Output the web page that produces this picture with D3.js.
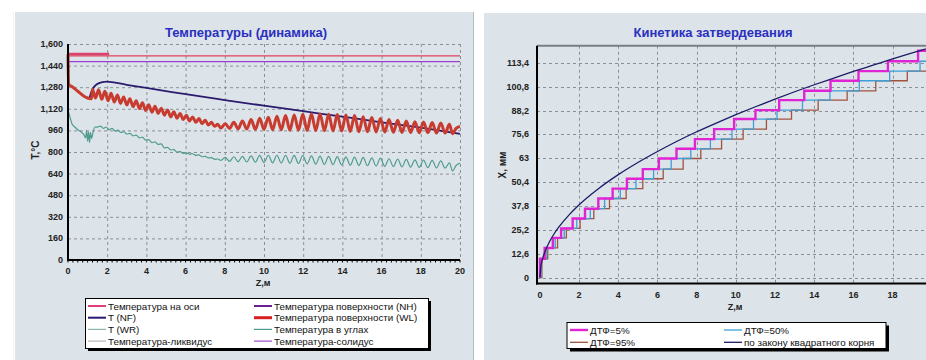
<!DOCTYPE html>
<html><head><meta charset="utf-8">
<script src="https://cdn.jsdelivr.net/npm/d3@7/dist/d3.min.js"></script>
<style>
html,body{margin:0;padding:0;background:#fff;}
svg{display:block;font-family:"Liberation Sans",Arial,sans-serif;}
</style></head>
<body><svg id="c" width="926" height="360"></svg>
<script>
// ---------- LEFT CHART DATA ----------
const leftTitle = "Температуры (динамика)";
const leftXTicks = [0,2,4,6,8,10,12,14,16,18,20];
const leftYTicks = [0,160,320,480,640,800,960,1120,1280,1440,1600];
const leftLegend = ["Температура на оси","Температура поверхности (NH)","T (NF)","Температура поверхности (WL)","T (WR)","Температура в углах","Температура-ликвидус","Температура-солидус"];

const axisZ = [0, 2.1];
const axisT = [1526, 1526];
const liqZ = [0, 20];
const liqT = [1512, 1512];
const solZ = [0, 20];
const solT = [1469, 1469];

const nfZ = [1.1,1.25,1.45,1.7,2.0,3,4,6,8,10,12,14,16,18,20];
const nfT = [1200,1265,1300,1316,1322,1298,1275,1228,1185,1143,1102,1062,1020,980,935];

const wlZ = [0,0.03,0.2,0.5,0.8,1.0,1.15,
 1.20,1.25,1.40,1.56,1.72,1.88,2.04,2.20,2.36,2.52,2.68,2.84,3.00,3.16,3.32,3.48,3.64,3.80,3.96,4.12,4.28,4.44,4.60,4.76,4.92,5.08,5.24,5.40,5.56,5.72,5.88,6.04,6.20,6.36,6.52,6.68,6.84,7.00,7.16,7.32,7.48,7.64,7.80,
 8.02,8.24,8.46,8.68,8.90,9.12,9.34,9.56,9.78,10.00,10.22,10.44,10.66,10.88,11.10,11.32,11.54,11.76,11.98,12.20,12.42,12.64,12.86,13.08,13.30,13.52,13.74,13.96,14.18,14.40,14.62,14.84,15.06,15.28,15.50,15.72,15.94,16.16,16.38,16.60,16.82,17.04,17.26,17.48,17.70,17.92,18.14,18.36,18.58,18.80,19.02,19.24,19.46,19.62,19.80,20.00];
const wlT = [1525,1300,1285,1250,1215,1200,1195,
 1195,1265,1200,1262,1190,1250,1180,1235,1170,1222,1160,1208,1148,1195,1135,1180,1122,1165,1108,1150,1095,1138,1085,1125,1072,1112,1060,1098,1050,1085,1040,1072,1030,1060,1020,1048,1010,1035,1000,1020,990,1005,978,
 1010,975,1020,972,1030,970,1040,968,1050,968,1058,965,1065,965,1070,962,1075,962,1080,960,1082,960,1082,958,1080,956,1078,955,1075,952,1070,950,1062,950,1055,948,1048,948,1040,946,1035,945,1030,944,1025,942,1022,942,1018,940,1015,940,1005,935,975,990];

const cornZ = [0,0.08,0.2,0.35,0.5,0.65,0.8,0.9,0.95,1.0,1.05,1.1,1.15,1.2,1.3,1.38,
 1.5,1.65,1.8,1.95,2.1,2.25,2.4,2.55,2.7,2.85,3.0,3.16,3.32,3.48,3.64,3.80,3.96,4.12,4.28,4.44,4.60,4.76,4.92,5.08,5.24,5.40,5.56,5.72,5.88,6.04,6.20,6.36,6.52,6.68,6.84,7.00,7.16,7.32,7.48,7.64,7.80,
 8.02,8.24,8.46,8.68,8.90,9.12,9.34,9.56,9.78,10.00,10.22,10.44,10.66,10.88,11.10,11.32,11.54,11.76,11.98,12.20,12.42,12.64,12.86,13.08,13.30,13.52,13.74,13.96,14.18,14.40,14.62,14.84,15.06,15.28,15.50,15.72,15.94,16.16,16.38,16.60,16.82,17.04,17.26,17.48,17.70,17.92,18.14,18.36,18.58,18.80,19.02,19.24,19.46,19.62,19.80,20.00];
const cornT = [1110,1070,1010,985,965,950,930,905,960,880,950,870,945,900,960,985,
 985,992,975,985,965,975,955,962,945,950,932,938,920,925,905,910,888,892,870,875,856,860,830,834,815,818,800,803,790,794,784,787,775,778,765,768,756,758,746,748,738,
 760,730,765,728,768,726,772,724,775,722,776,720,776,718,776,716,775,715,774,712,772,710,770,708,768,706,766,704,764,702,762,700,760,698,757,696,754,694,750,692,748,690,745,688,742,686,740,684,738,682,735,680,720,660,700,718];

// ---------- RIGHT CHART DATA ----------
const rightTitle = "Кинетика затвердевания";
const rightXTicks = [0,2,4,6,8,10,12,14,16,18];
const rightYTicks = [0,12.6,25.2,37.8,50.4,63,75.6,88.2,100.8,113.4];
const rightLegend = ["ДТФ=5%","ДТФ=50%","ДТФ=95%","по закону квадратного корня"];

const stepLevels = [10.0,15.7,21.0,26.0,31.2,36.4,41.8,47.0,52.2,57.3,62.9,68.0,73.1,78.4,83.7,88.4,93.7,98.6,103.9,109.0,114.2,119.7];
const dtf5Z  = [0,0.24,0.66,1.08,1.67,2.3,2.98,3.71,4.44,5.25,6.07,6.97,7.91,8.89,9.91,11.0,12.21,13.49,14.83,16.26,17.76,19.3];
const dtf50Z = [0.05,0.32,0.78,1.24,1.88,2.57,3.3,4.1,4.9,5.8,6.7,7.7,8.7,9.8,10.9,12.1,13.4,14.8,16.3,17.85,19.4];
const dtf95Z = [0.1,0.4,0.9,1.35,2.05,2.75,3.55,4.4,5.25,6.29,7.31,8.21,9.27,10.37,11.56,12.84,14.2,15.68,17.14,18.75];

const sqrtZ = [0,0.05,0.1,0.25,0.5,0.75,1,1.5,2,3,4,5,6,7,8,9,10,11,12,13,14,15,16,17,18,19,20];
const sqrtX = [0,6.1,8.6,13.6,19.2,23.6,27.2,33.3,38.5,47.1,54.4,60.8,66.6,72,77,81.6,86,90.2,94.2,98.1,101.8,105.3,108.8,112.1,115.4,118.6,121.6];

// ---------- DRAW ----------
const svg = d3.select("#c");
const BG = "#dde4e9";
const GRID = "#8a9098";
const LEGFS = 9.8;

svg.append("rect").attr("x",15).attr("y",12).attr("width",458).attr("height",348).attr("fill",BG);
svg.append("line").attr("x1",473.5).attr("x2",473.5).attr("y1",12).attr("y2",360).attr("stroke","#b4bcc4");
svg.append("line").attr("x1",13.5).attr("x2",13.5).attr("y1",12).attr("y2",360).attr("stroke","#eef1f4");
svg.append("rect").attr("x",484).attr("y",13).attr("width",442).attr("height",347).attr("fill",BG);

function zip(a,b){return a.map((v,i)=>[v,b[i]]);}

// ===== LEFT =====
const xL = d3.scaleLinear().domain([0,20]).range([68,460]);
const yL = d3.scaleLinear().domain([0,1600]).range([260,44]);
const gL = svg.append("g");

gL.selectAll(".vg").data(leftXTicks.slice(1)).join("line")
  .attr("x1",d=>xL(d)+.5).attr("x2",d=>xL(d)+.5).attr("y1",yL(1600)).attr("y2",yL(0))
  .attr("stroke",GRID).attr("stroke-dasharray","3,3").attr("stroke-width",1);
gL.selectAll(".hg").data(leftYTicks.slice(1)).join("line")
  .attr("x1",xL(0)).attr("x2",xL(20)).attr("y1",d=>yL(d)+.5).attr("y2",d=>yL(d)+.5)
  .attr("stroke",GRID).attr("stroke-dasharray","3,3").attr("stroke-width",1);

const lineL = d3.line().x(d=>xL(d[0])).y(d=>yL(d[1]));
const lineLs = d3.line().x(d=>xL(d[0])).y(d=>yL(d[1])).curve(d3.curveMonotoneX);

gL.append("path").datum(zip(solZ,solT)).attr("d",lineL).attr("fill","none").attr("stroke","#9a3fd0").attr("stroke-width",1.3);
gL.append("path").datum(zip(liqZ,liqT)).attr("d",lineL).attr("fill","none").attr("stroke","#e0405e").attr("stroke-width",1.3);
gL.append("path").datum(zip(axisZ,axisT)).attr("d",lineL).attr("fill","none").attr("stroke","#d8446e").attr("stroke-width",2.6);
gL.append("path").datum(zip(cornZ,cornT)).attr("d",lineLs).attr("fill","none").attr("stroke","#4f9b8f").attr("stroke-width",1.2);
gL.append("path").datum(zip(nfZ,nfT)).attr("d",d3.line().x(d=>xL(d[0])).y(d=>yL(d[1])).curve(d3.curveCatmullRom)).attr("fill","none").attr("stroke","#2b1a6e").attr("stroke-width",1.8);
gL.append("path").datum(zip(wlZ,wlT)).attr("d",lineLs).attr("fill","none").attr("stroke","#c83c30").attr("stroke-width",3);

gL.append("line").attr("x1",xL(0)).attr("x2",xL(0)).attr("y1",yL(1600)).attr("y2",yL(0)+1).attr("stroke","#000").attr("stroke-width",2);
gL.append("line").attr("x1",xL(0)-1).attr("x2",xL(20)).attr("y1",yL(0)).attr("y2",yL(0)).attr("stroke","#000").attr("stroke-width",2);
gL.selectAll(".mt").data(d3.range(0,81)).join("line")
  .attr("x1",d=>xL(d*0.25)).attr("x2",d=>xL(d*0.25)).attr("y1",yL(0)).attr("y2",yL(0)+2.5).attr("stroke","#000").attr("stroke-width",1);

gL.selectAll(".xl").data(leftXTicks).join("text")
  .attr("x",d=>xL(d)).attr("y",274).attr("text-anchor","middle").attr("font-size",9).attr("font-weight","bold").attr("fill","#222").text(d=>d);
gL.selectAll(".yl").data(leftYTicks).join("text")
  .attr("x",63).attr("y",d=>yL(d)+3).attr("text-anchor","end").attr("font-size",9).attr("font-weight","bold").attr("fill","#222").text(d3.format(","));
gL.append("text").attr("x",263).attr("y",286).attr("text-anchor","middle").attr("font-size",9).attr("font-weight","bold").attr("fill","#222").text("Z,м");
gL.append("text").attr("transform","translate(39,150) rotate(-90)").attr("text-anchor","middle").attr("font-size",10).attr("font-weight","bold").attr("fill","#222").text("T,°C");
gL.append("text").attr("x",246).attr("y",37).attr("text-anchor","middle").attr("font-size",13).attr("font-weight","bold").attr("fill","#2a2fc0").text(leftTitle);

const legL = [
  {c:"#e0407a",w:2},{c:"#6a2090",w:2},{c:"#2b1a6e",w:2},{c:"#d82020",w:3},
  {c:"#8cb4b0",w:1.2},{c:"#4f9b8f",w:1.2},{c:"#b8b8b8",w:1.2},{c:"#a050c8",w:1.2}];
svg.append("rect").attr("x",88).attr("y",301).attr("width",343).attr("height",50).attr("fill","#000");
svg.append("rect").attr("x",85.5).attr("y",298.5).attr("width",343).attr("height",50).attr("fill","#fff").attr("stroke","#000").attr("stroke-width",1);
leftLegend.forEach((t,i)=>{
  const col=i%2, row=Math.floor(i/2);
  const x0 = col===0?88:254, yy = 306+row*11.7;
  svg.append("line").attr("x1",x0).attr("x2",x0+18).attr("y1",yy).attr("y2",yy).attr("stroke",legL[i].c).attr("stroke-width",legL[i].w);
  svg.append("text").attr("x",x0+20).attr("y",yy+3.6).attr("font-size",LEGFS).attr("fill","#111").text(t);
});

// ===== RIGHT =====
const xR = d3.scaleLinear().domain([-0.15,20]).range([537,931.8]);
const yR = d3.scaleLinear().domain([-3,122.4]).range([283.4,45.7]);
const gR = svg.append("g");
gR.selectAll(".vg").data(rightXTicks.slice(1)).join("line")
  .attr("x1",d=>Math.round(xR(d))+.5).attr("x2",d=>Math.round(xR(d))+.5).attr("y1",yR(122.4)).attr("y2",yR(-3))
  .attr("stroke",GRID).attr("stroke-dasharray","3,3");
gR.selectAll(".hg").data(rightYTicks).join("line")
  .attr("x1",xR(-0.15)).attr("x2",926).attr("y1",d=>Math.round(yR(d))+.5).attr("y2",d=>Math.round(yR(d))+.5)
  .attr("stroke",GRID).attr("stroke-dasharray","3,3");
gR.append("line").attr("x1",xR(-0.15)).attr("x2",926).attr("y1",yR(122.4)).attr("y2",yR(122.4)).attr("stroke","#7a7f86").attr("stroke-width",2);

function stepPts(zs){const p=[[0,0]]; zs.forEach((z,i)=>p.push([z,stepLevels[i]])); p.push([20,stepLevels[zs.length-1]]); return p;}
const stepLine = d3.line().x(d=>xR(d[0])).y(d=>yR(d[1])).curve(d3.curveStepAfter);
gR.append("path").datum(stepPts(dtf95Z)).attr("d",stepLine).attr("fill","none").attr("stroke","#a0523f").attr("stroke-width",1.3);
gR.append("path").datum(stepPts(dtf50Z)).attr("d",stepLine).attr("fill","none").attr("stroke","#3c9fd8").attr("stroke-width",1.3);
gR.append("path").datum(stepPts(dtf5Z)).attr("d",stepLine).attr("fill","none").attr("stroke","#e024d4").attr("stroke-width",2.4);
gR.append("path").datum(zip(sqrtZ,sqrtX)).attr("d",d3.line().x(d=>xR(d[0])).y(d=>yR(d[1])).curve(d3.curveMonotoneX)).attr("fill","none").attr("stroke","#1c1c66").attr("stroke-width",1.3);

gR.append("line").attr("x1",xR(-0.15)).attr("x2",xR(-0.15)).attr("y1",yR(122.4)).attr("y2",yR(-3)+1).attr("stroke","#000").attr("stroke-width",2);
gR.append("line").attr("x1",xR(-0.15)-1).attr("x2",926).attr("y1",yR(-3)).attr("y2",yR(-3)).attr("stroke","#000").attr("stroke-width",2);

gR.selectAll(".xl").data(rightXTicks).join("text")
  .attr("x",d=>xR(d)).attr("y",297.5).attr("text-anchor","middle").attr("font-size",9).attr("font-weight","bold").attr("fill","#222").text(d=>d);
gR.selectAll(".yl").data(rightYTicks).join("text")
  .attr("x",529).attr("y",d=>yR(d)+3).attr("text-anchor","end").attr("font-size",9).attr("font-weight","bold").attr("fill","#222").text(d=>String(d).replace(".",","));
gR.append("text").attr("x",735).attr("y",310).attr("text-anchor","middle").attr("font-size",9).attr("font-weight","bold").attr("fill","#222").text("Z,м");
gR.append("text").attr("transform","translate(506,165) rotate(-90)").attr("text-anchor","middle").attr("font-size",10).attr("font-weight","bold").attr("fill","#222").text("X, мм");
gR.append("text").attr("x",713).attr("y",37).attr("text-anchor","middle").attr("font-size",13).attr("font-weight","bold").attr("fill","#2a2fc0").text(rightTitle);

const legR = [{c:"#e024d4",w:2.4},{c:"#3c9fd8",w:1.3},{c:"#a0523f",w:1.3},{c:"#1c1c66",w:1.3}];
svg.append("rect").attr("x",570).attr("y",325.5).attr("width",319).attr("height",26).attr("fill","#000");
svg.append("rect").attr("x",567).attr("y",322.5).attr("width",319).attr("height",26).attr("fill","#fff").attr("stroke","#000").attr("stroke-width",1);
rightLegend.forEach((t,i)=>{
  const col=i%2, row=Math.floor(i/2);
  const x0 = col===0?570:724, yy = 330+row*12.3;
  svg.append("line").attr("x1",x0).attr("x2",x0+18).attr("y1",yy).attr("y2",yy).attr("stroke",legR[i].c).attr("stroke-width",legR[i].w);
  svg.append("text").attr("x",x0+20).attr("y",yy+3.6).attr("font-size",LEGFS).attr("fill","#111").text(t);
});
</script></body></html>
